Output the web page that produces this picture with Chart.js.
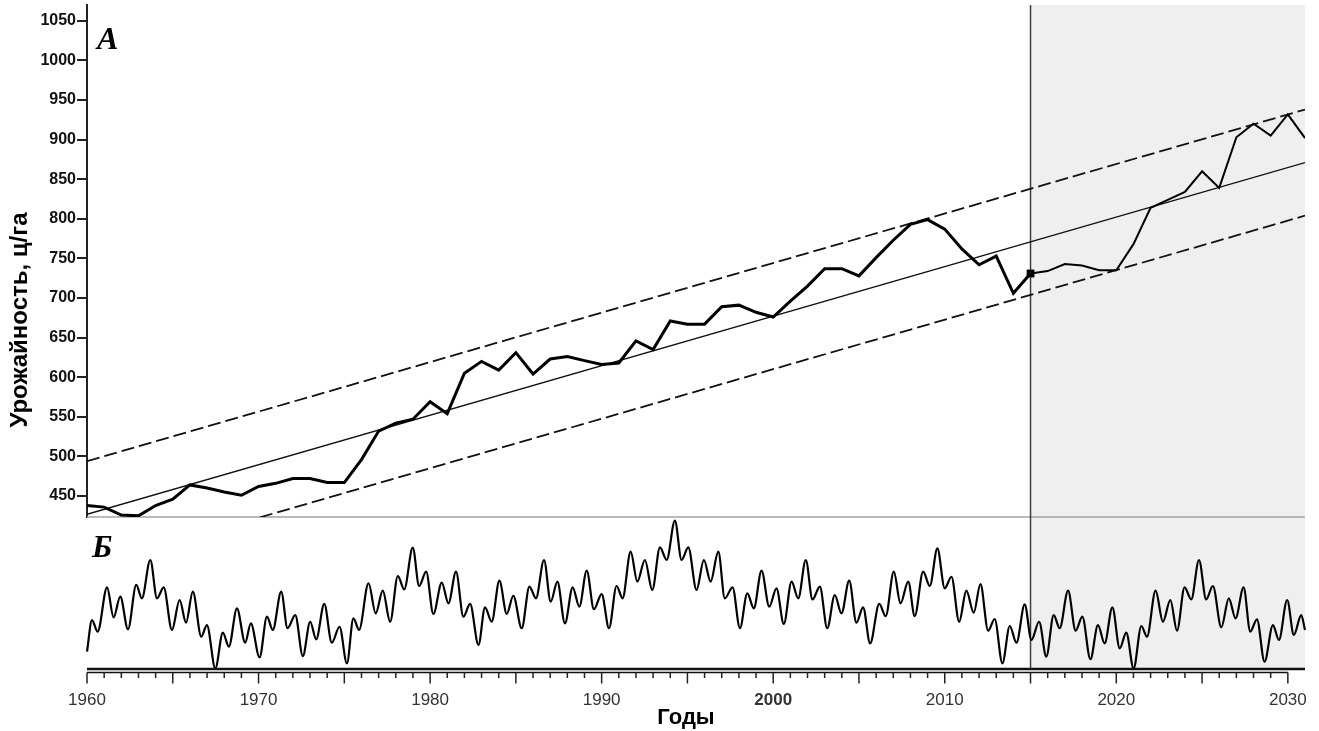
<!DOCTYPE html>
<html>
<head>
<meta charset="utf-8">
<script src="https://cdn.jsdelivr.net/npm/chart.js@4.4.0/dist/chart.umd.min.js"></script>
<style>
  html, body { margin: 0; padding: 0; background: #fff; }
  canvas { display: block; }
</style>
</head>
<body>
<canvas id="chart" width="1319" height="731"></canvas>
<script>
// panel A: yield, c/ha
const years = [
  1960, 1961, 1962, 1963, 1964, 1965, 1966, 1967, 1968, 1969,
  1970, 1971, 1972, 1973, 1974, 1975, 1976, 1977, 1978, 1979,
  1980, 1981, 1982, 1983, 1984, 1985, 1986, 1987, 1988, 1989,
  1990, 1991, 1992, 1993, 1994, 1995, 1996, 1997, 1998, 1999,
  2000, 2001, 2002, 2003, 2004, 2005, 2006, 2007, 2008, 2009,
  2010, 2011, 2012, 2013, 2014, 2015, 2016, 2017, 2018, 2019,
  2020, 2021, 2022, 2023, 2024, 2025, 2026, 2027, 2028, 2029,
  2030, 2031
]
const yieldValues = [
  438, 436, 426, 425, 438, 446, 464, 460, 455, 451,
  462, 466, 472, 472, 467, 467, 496, 532, 542, 547,
  569, 554, 605, 620, 609, 631, 604, 623, 626, 621,
  616, 618, 646, 635, 671, 667, 667, 689, 691, 682,
  676, 696, 715, 737, 737, 728, 751, 773, 793, 799,
  787, 762, 742, 753, 706, 731, 734, 743, 741, 735,
  735, 768, 814, 824, 834, 860, 839, 903, 920, 905,
  932, 902
]

// trend and its band
const trendYears = [1960, 2031]
const trendMid = [427, 871]
const trendUpper = [494, 938]
const trendLower = [360, 804]

// panel Б: cyclic index (peaks and troughs of the curve)
const waveYears = [
  1960.0, 1960.29, 1960.62, 1961.17, 1961.55, 1961.94, 1962.39, 1962.87, 1963.2, 1963.69,
  1964.08, 1964.47, 1964.95, 1965.4, 1965.77, 1966.17, 1966.66, 1966.99, 1967.48, 1967.92,
  1968.27, 1968.74, 1969.22, 1969.55, 1970.06, 1970.49, 1970.83, 1971.32, 1971.69, 1972.14,
  1972.58, 1973.01, 1973.36, 1973.83, 1974.27, 1974.72, 1975.15, 1975.53, 1975.86, 1976.41,
  1976.83, 1977.24, 1977.67, 1978.12, 1978.49, 1978.99, 1979.36, 1979.77, 1980.19, 1980.68,
  1981.07, 1981.51, 1981.94, 1982.33, 1982.82, 1983.2, 1983.59, 1984.04, 1984.47, 1984.85,
  1985.34, 1985.79, 1986.17, 1986.64, 1987.03, 1987.42, 1987.86, 1988.31, 1988.7, 1989.13,
  1989.55, 1990.0, 1990.43, 1990.87, 1991.22, 1991.69, 1992.08, 1992.52, 1992.95, 1993.4,
  1993.79, 1994.27, 1994.66, 1995.05, 1995.53, 1995.96, 1996.35, 1996.8, 1997.18, 1997.63,
  1998.06, 1998.49, 1998.87, 1999.32, 1999.77, 2000.19, 2000.62, 2001.07, 2001.46, 2001.9,
  2002.29, 2002.72, 2003.15, 2003.59, 2003.98, 2004.43, 2004.85, 2005.24, 2005.65, 2006.18,
  2006.56, 2007.03, 2007.42, 2007.87, 2008.25, 2008.74, 2009.13, 2009.57, 2010.0, 2010.39,
  2010.84, 2011.26, 2011.69, 2012.08, 2012.53, 2012.91, 2013.36, 2013.79, 2014.18, 2014.66,
  2015.05, 2015.5, 2015.92, 2016.35, 2016.7, 2017.19, 2017.63, 2018.02, 2018.49, 2018.93,
  2019.32, 2019.77, 2020.2, 2020.58, 2021.01, 2021.46, 2021.79, 2022.29, 2022.72, 2023.15,
  2023.54, 2023.98, 2024.37, 2024.82, 2025.24, 2025.63, 2026.12, 2026.56, 2026.95, 2027.42,
  2027.81, 2028.2, 2028.64, 2029.13, 2029.48, 2029.96, 2030.35, 2030.78, 2031.0
]
const waveValues = [
  11.4, 32.2, 24.6, 53.7, 34.0, 47.6, 26.1, 55.3, 46.5, 71.7,
  46.5, 53.7, 25.7, 45.4, 30.5, 50.9, 21.3, 28.9, 0.4, 23.9,
  14.7, 39.9, 17.3, 30.0, 7.7, 34.4, 25.7, 50.9, 26.8, 35.5,
  8.5, 31.1, 19.5, 42.8, 17.3, 27.8, 3.7, 33.3, 25.7, 56.4,
  36.6, 51.5, 31.1, 61.2, 52.4, 79.8, 54.6, 64.0, 36.2, 56.8,
  43.2, 64.0, 34.4, 42.8, 15.8, 40.6, 31.1, 58.1, 36.2, 48.2,
  26.8, 54.2, 46.5, 71.7, 44.3, 57.5, 30.0, 53.7, 41.0, 64.7,
  39.3, 49.3, 26.8, 54.6, 46.5, 77.2, 57.5, 71.7, 52.0, 80.0,
  71.7, 97.6, 71.7, 80.0, 52.0, 71.7, 57.5, 77.2, 46.5, 53.7,
  26.8, 49.8, 39.9, 64.7, 41.0, 53.1, 29.6, 57.5, 46.5, 71.7,
  45.8, 54.2, 26.8, 48.7, 36.6, 58.1, 30.5, 40.6, 16.8, 42.8,
  34.8, 64.0, 43.2, 57.5, 34.8, 64.0, 54.6, 79.4, 53.1, 60.7,
  31.1, 51.5, 37.1, 55.9, 25.2, 32.9, 3.7, 28.3, 17.3, 42.5,
  19.1, 31.1, 8.1, 35.5, 26.8, 51.5, 25.2, 34.4, 6.4, 28.9,
  16.9, 40.6, 13.6, 23.9, 0.4, 28.3, 21.3, 51.5, 31.1, 45.4,
  25.2, 53.7, 45.8, 71.7, 45.8, 54.6, 27.4, 46.5, 33.3, 53.7,
  24.6, 32.7, 4.8, 28.9, 19.1, 45.4, 22.4, 35.5, 25.7
]

const yTicks = [450, 500, 550, 600, 650, 700, 750, 800, 850, 900, 950, 1000, 1050]
const xTicks = [1960, 1970, 1980, 1990, 2000, 2010, 2020, 2030]
const forecastStart = 2015

const pts = (xs, ys) => xs.map((x, i) => ({ x: x, y: ys[i] }))

const panels = {
  id: "panels",
  beforeDatasetsDraw(chart) {
    const { ctx, scales } = chart
    const x = scales.x, y = scales.y, y2 = scales.y2
    const xf = x.getPixelForValue(forecastStart)
    ctx.save()
    ctx.fillStyle = "#efefef"
    ctx.fillRect(xf, y.top, x.right - xf, y2.bottom - y.top)
    ctx.strokeStyle = "#a3a3a3"
    ctx.lineWidth = 1.6
    ctx.beginPath()
    ctx.moveTo(x.left, y.bottom)
    ctx.lineTo(x.right, y.bottom)
    ctx.stroke()
    ctx.strokeStyle = "#3c3c3c"
    ctx.lineWidth = 1.5
    ctx.beginPath()
    ctx.moveTo(xf, y.top)
    ctx.lineTo(xf, y2.bottom)
    ctx.stroke()
    ctx.restore()
  },
  afterDraw(chart) {
    const { ctx, scales } = chart
    const x = scales.x, y = scales.y, y2 = scales.y2
    ctx.save()
    // double axis line under panel Б
    ctx.strokeStyle = "#111"
    ctx.lineWidth = 2.5
    ctx.beginPath()
    ctx.moveTo(x.left, y2.bottom)
    ctx.lineTo(x.right, y2.bottom)
    ctx.stroke()
    const last = xTicks[xTicks.length - 1]
    ctx.lineWidth = 1.5
    ctx.beginPath()
    ctx.moveTo(x.left, y2.bottom + 3.5)
    ctx.lineTo(x.getPixelForValue(last), y2.bottom + 3.5)
    ctx.stroke()
    // yearly ticks, longer every 5 years
    ctx.strokeStyle = "#222"
    ctx.lineWidth = 1.5
    for (let yr = xTicks[0]; yr <= last; yr++) {
      const px = x.getPixelForValue(yr)
      const len = yr % 5 === 0 ? 11 : 5.5
      ctx.beginPath()
      ctx.moveTo(px, y2.bottom + 3.5)
      ctx.lineTo(px, y2.bottom + 3.5 + len)
      ctx.stroke()
    }
    // panel letters
    ctx.fillStyle = "#000"
    ctx.font = "italic bold 32px 'Liberation Serif', 'DejaVu Serif', serif"
    ctx.textAlign = "left"
    ctx.textBaseline = "alphabetic"
    ctx.fillText("А", x.left + 10, 49)
    ctx.fillText("Б", x.left + 5, y.bottom + 40)
    // axis titles
    ctx.font = "bold 22px 'Liberation Sans', Arial, sans-serif"
    ctx.textAlign = "center"
    ctx.fillText("Годы", 686, 724)
    ctx.translate(20, 320)
    ctx.rotate(-Math.PI / 2)
    ctx.font = "bold 24px 'Liberation Sans', Arial, sans-serif"
    ctx.textBaseline = "middle"
    ctx.fillText("Урожайность, ц/га", 0, 0)
    ctx.restore()
  },
}

new Chart(document.getElementById("chart"), {
  type: "line",
  data: {
    datasets: [
      {
        data: pts(years, yieldValues),
        yAxisID: "y",
        borderColor: "#000",
        borderWidth: 3,
        segment: {
          borderWidth: (c) => (c.p0.parsed.x >= forecastStart ? 2 : 3),
        },
        pointStyle: "rect",
        pointRadius: (c) => (years[c.dataIndex] === forecastStart ? 5.5 : 0),
        pointBackgroundColor: "#000",
        pointBorderWidth: 0,
        tension: 0,
      },
      {
        data: pts(trendYears, trendMid),
        yAxisID: "y",
        borderColor: "#111",
        borderWidth: 1.4,
        pointRadius: 0,
      },
      {
        data: pts(trendYears, trendUpper),
        yAxisID: "y",
        borderColor: "#111",
        borderWidth: 1.8,
        borderDash: [13, 5],
        pointRadius: 0,
      },
      {
        data: pts(trendYears, trendLower),
        yAxisID: "y",
        borderColor: "#111",
        borderWidth: 1.8,
        borderDash: [13, 5],
        pointRadius: 0,
      },
      {
        data: pts(waveYears, waveValues),
        yAxisID: "y2",
        borderColor: "#000",
        borderWidth: 2.2,
        cubicInterpolationMode: "monotone",
        pointRadius: 0,
        clip: 3,
      },
    ],
  },
  options: {
    responsive: false,
    animation: false,
    events: [],
    layout: { padding: { top: 5, right: 14, left: 0, bottom: 0 } },
    plugins: { legend: { display: false }, tooltip: { enabled: false } },
    scales: {
      x: {
        type: "linear",
        position: "bottom",
        min: 1960,
        max: 2031,
        border: { display: false },
        grid: { display: false, drawTicks: false },
        afterBuildTicks: (s) => { s.ticks = xTicks.map((v) => ({ value: v })) },
        afterFit: (s) => {
          s.height = 62
          s.paddingLeft = 0
          s.paddingRight = 0
        },
        ticks: {
          autoSkip: false,
          maxRotation: 0,
          padding: 21,
          color: "#333",
          font: (c) => ({
            family: "'Liberation Sans', Arial, sans-serif",
            size: 17,
            weight: c.tick && c.tick.value === 2000 ? "bold" : "normal",
          }),
          callback: (v) => String(v),
        },
      },
      y: {
        type: "linear",
        position: "left",
        stack: "panels",
        stackWeight: 512,
        weight: 1,
        min: 423.5,
        max: 1070,
        border: { display: true, color: "#222", width: 2 },
        grid: { drawOnChartArea: false, drawTicks: true, tickLength: 10, tickColor: "#222", lineWidth: 2 },
        afterBuildTicks: (s) => { s.ticks = yTicks.map((v) => ({ value: v })) },
        afterFit: (s) => {
          s.width = 87
          s.paddingTop = 0
          s.paddingBottom = 0
        },
        ticks: {
          autoSkip: false,
          padding: 1,
          color: "#111",
          font: { family: "'Liberation Sans', Arial, sans-serif", size: 16, weight: "bold" },
          callback: (v) => String(v),
        },
      },
      y2: {
        type: "linear",
        position: "left",
        stack: "panels",
        stackWeight: 152,
        weight: 0,
        min: 0,
        max: 100,
        border: { display: false },
        grid: { display: false },
        ticks: { display: false },
        afterFit: (s) => {
          s.width = 87
          s.paddingTop = 0
          s.paddingBottom = 0
        },
      },
    },
  },
  plugins: [panels],
})
</script>
</body>
</html>
